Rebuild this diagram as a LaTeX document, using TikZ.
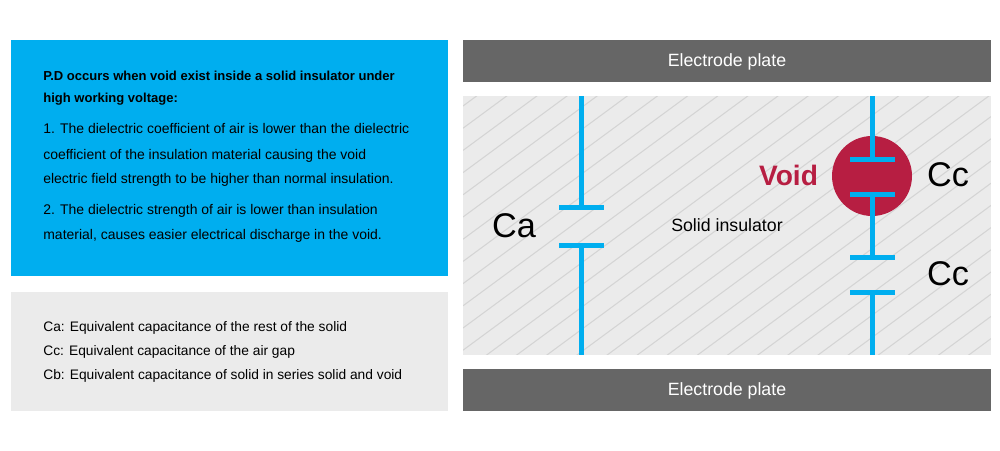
\documentclass[tikz,border=0pt]{standalone}
\usepackage{fontspec}
\setmainfont{Liberation Sans}
\usepackage{xcolor}
\usetikzlibrary{positioning,calc}
\definecolor{skyblue}{RGB}{0,174,239}
\definecolor{greypanel}{RGB}{235,235,235}
\definecolor{greyplate}{RGB}{102,102,102}
\definecolor{voidred}{RGB}{183,30,66}
\definecolor{hatchgrey}{RGB}{212,212,212}

\begin{document}
\begin{tikzpicture}[
    x=0.02cm, y=-0.02cm,
    panel/.style={rectangle, anchor=north west, inner sep=0pt, outer sep=0pt},
    platebox/.style={panel, fill=greyplate, minimum width=10.56cm, minimum height=0.84cm},
    platelabel/.style={text=white, font=\fontsize{10.1}{12}\selectfont},
    textline/.style={anchor=base west, inner sep=0pt, font=\fontsize{7.95}{9}\selectfont},
    keyline/.style={textline, font=\fontsize{7.84}{9}\selectfont},
    boldline/.style={textline, font=\bfseries\fontsize{7.41}{9}\selectfont},
    caplabel/.style={inner sep=0pt, font=\fontsize{19.5}{24}\selectfont},
    wire/.style={draw=skyblue, line width=0.1cm},
    hatch/.style={draw=hatchgrey, line width=0.6pt}
]
    \useasboundingbox (0,0) rectangle (1000,450);

    % left panels
    \node[panel, fill=skyblue, minimum width=8.75cm, minimum height=4.72cm] (textbox) at (10.5,40) {};
    \node[panel, fill=greypanel, minimum width=8.75cm, minimum height=2.38cm] (legend) at (10.5,292) {};

    % electrode plates and insulator
    \node[platebox] (platetop) at (463,40) {};
    \node[platebox] (platebot) at (463,369) {};
    \node[panel, fill=greypanel, minimum width=10.56cm, minimum height=5.18cm] (solid) at (463,96) {};
    \begin{scope}
        \clip (solid.north west) rectangle (solid.south east);
        \foreach \k in {-1,...,30}
            \draw[hatch] (463,106+22.2*\k) -- (991,106+22.2*\k-389);
    \end{scope}

    \node[platelabel] (labeltop) at (727,62) {Electrode plate};
    \node[platelabel] (labelbot) at (727,391) {Electrode plate};

    % void
    \node[circle, fill=voidred, minimum size=1.6cm, inner sep=0pt] (void) at (872,176) {};
    \node[font=\bfseries\fontsize{16}{19}\selectfont, text=voidred, inner sep=0pt] (voidlabel) at (788.5,175) {Void};

    % capacitor Ca
    \coordinate (catop) at (581,96);
    \coordinate (caupper) at (581,207);
    \coordinate (calower) at (581,245);
    \coordinate (cabot) at (581,355);
    \draw[wire] (catop) -- (caupper);
    \draw[wire] (calower) -- (cabot);

    % capacitors Cc
    \coordinate (cctop) at (872,96);
    \coordinate (ccone) at (872,159);
    \coordinate (cctwo) at (872,194);
    \coordinate (ccthree) at (872,257);
    \coordinate (ccfour) at (872,292);
    \coordinate (ccbot) at (872,355);
    \draw[wire] (cctop) -- (ccone);
    \draw[wire] (cctwo) -- (ccthree);
    \draw[wire] (ccfour) -- (ccbot);

    % capacitor bars
    \foreach \bar in {caupper,calower,ccone,cctwo,ccthree,ccfour}
        \draw[wire] ([xshift=-0.44cm]\bar) -- ([xshift=0.45cm]\bar);

    \node[caplabel] (ca) at (514,226) {Ca};
    \node[caplabel] (ccupper) at (948,175) {Cc};
    \node[caplabel] (cclower) at (948,274) {Cc};
    \node[inner sep=0pt, font=\fontsize{10.1}{12}\selectfont] (solidlabel) at (727,225) {Solid insulator};

    % text
    \node[boldline] (t1) at (43,80) {P.D occurs when void exist inside a solid insulator under};
    \node[boldline] (t2) at (43,102) {high working voltage:};
    \node[textline] (t3) at (43,133) {1. The dielectric coefficient of air is lower than the dielectric};
    \node[textline] (t4) at (43,159) {coefficient of the insulation material causing the void};
    \node[textline] (t5) at (43,183) {electric field strength to be higher than normal insulation.};
    \node[textline] (t6) at (43,214) {2. The dielectric strength of air is lower than insulation};
    \node[textline] (t7) at (43,239) {material, causes easier electrical discharge in the void.};

    \node[keyline] (l1) at (43,331) {Ca: Equivalent capacitance of the rest of the solid};
    \node[keyline] (l2) at (43,355) {Cc: Equivalent capacitance of the air gap};
    \node[keyline] (l3) at (43,379) {Cb: Equivalent capacitance of solid in series solid and void};
\end{tikzpicture}
\end{document}
